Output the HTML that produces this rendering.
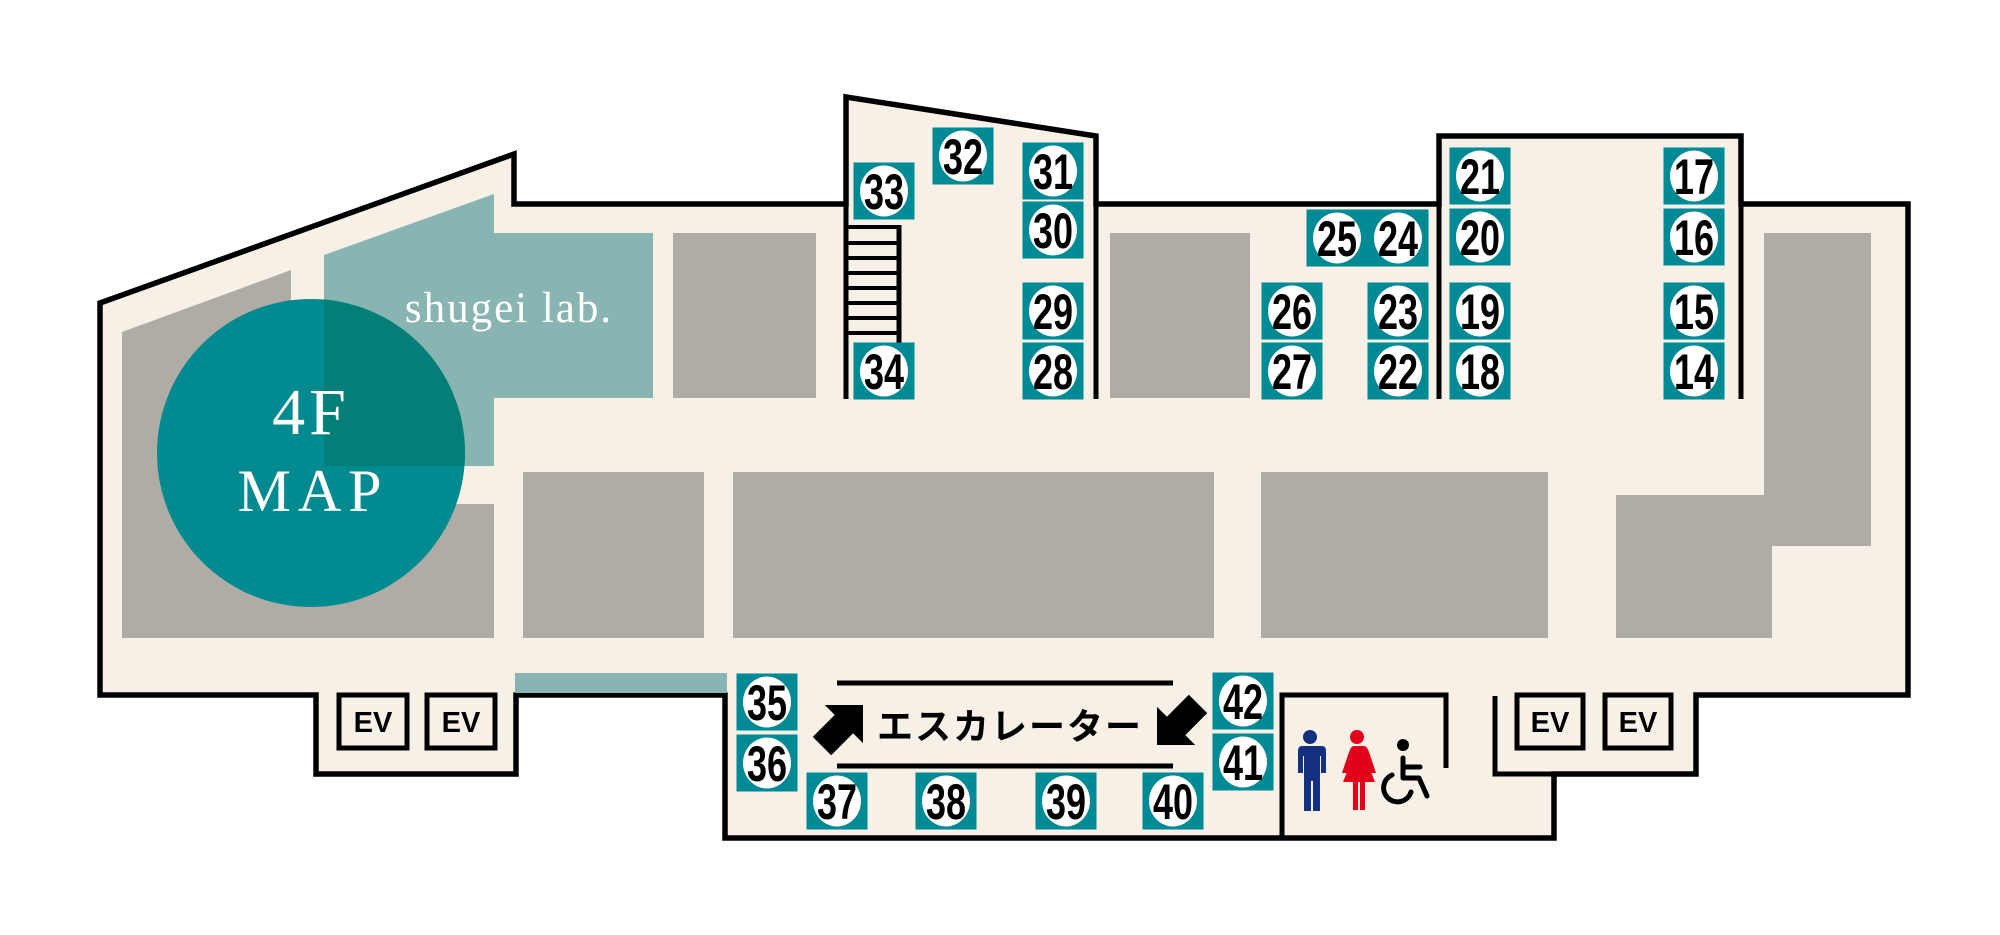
<!DOCTYPE html>
<html><head><meta charset="utf-8"><style>
html,body{margin:0;padding:0;background:#fff;}
svg{display:block;}
.n{font-family:"Liberation Sans Narrow","Liberation Sans",sans-serif;font-weight:bold;font-size:50px;fill:#000;}
.ev{font-family:"Liberation Sans",sans-serif;font-weight:bold;font-size:29px;fill:#000;}
</style></head><body>
<svg width="2000" height="935" viewBox="0 0 2000 935" xmlns="http://www.w3.org/2000/svg">
<defs>
<clipPath id="cc"><circle cx="311" cy="453" r="154"/></clipPath>
<g id="b">
<rect x="-30.5" y="-28.5" width="61" height="57" fill="#008a96"/>
<ellipse cx="0" cy="0" rx="24" ry="25.5" fill="#fff"/>
</g>
</defs>
<polygon points="100,303 514,154 514,204 846,204 846,97 1096,136 1096,204 1439,204 1439,136 1741,136 1741,204 1908,204 1908,695 1696,695 1696,774 1554,774 1554,838 725,838 725,695 516,695 516,774 316,774 316,695 100,695" fill="#f6f0e7" stroke="#000" stroke-width="5.5" stroke-linejoin="miter"/>
<g fill="#afaba5">
<polygon points="122,332 291,270 291,504 494,504 494,638 122,638"/>
<rect x="673" y="233" width="143" height="165"/>
<rect x="1110" y="233" width="140" height="165"/>
<rect x="523" y="472" width="181" height="166"/>
<rect x="733" y="472" width="481" height="166"/>
<rect x="1261" y="472" width="287" height="166"/>
<rect x="1616" y="495" width="156" height="143"/>
<rect x="1764" y="233" width="107" height="313"/>
</g>
<polygon points="324,255 494,194 494,233 653,233 653,398 494,398 494,466 324,466" fill="#88b5b2"/>
<rect x="515" y="673" width="212" height="20" fill="#88b5b2"/>
<circle cx="311" cy="453" r="154" fill="#018a90"/>
<polygon clip-path="url(#cc)" points="324,255 494,194 494,233 653,233 653,398 494,398 494,466 324,466" fill="#037f77"/>
<text x="509" y="322" text-anchor="middle" font-family="'Liberation Serif',serif" font-size="43" fill="#fff" letter-spacing="2">shugei lab.</text>
<text x="311" y="434" text-anchor="middle" font-family="'Liberation Serif',serif" font-size="66" fill="#fff" letter-spacing="4">4F</text>
<text x="313" y="511" text-anchor="middle" font-family="'Liberation Serif',serif" font-size="60" fill="#fff" letter-spacing="7">MAP</text>
<g stroke="#000" stroke-width="5" fill="none">
<line x1="846" y1="204" x2="846" y2="399"/>
<line x1="1096" y1="204" x2="1096" y2="399"/>
<line x1="1439" y1="204" x2="1439" y2="399"/>
<line x1="1741" y1="204" x2="1741" y2="399"/>
<polyline points="1282,838 1282,695 1446,695 1446,768"/>
<polyline points="1495,696 1495,774 1554,774"/>
<line x1="899" y1="225" x2="899" y2="345"/>
<line x1="837" y1="683" x2="1173" y2="683"/>
<line x1="837" y1="766" x2="1173" y2="766"/>
</g>
<g stroke="#000" stroke-width="4">
<line x1="846" y1="227" x2="899" y2="227"/><line x1="846" y1="243" x2="899" y2="243"/>
<line x1="846" y1="258" x2="899" y2="258"/><line x1="846" y1="273" x2="899" y2="273"/>
<line x1="846" y1="288" x2="899" y2="288"/><line x1="846" y1="303" x2="899" y2="303"/>
<line x1="846" y1="318" x2="899" y2="318"/><line x1="846" y1="333" x2="899" y2="333"/>
</g>
<g fill="none" stroke="#000" stroke-width="5">
<rect x="339" y="695" width="68" height="53"/><rect x="427" y="695" width="68" height="53"/>
<rect x="1517" y="695" width="66" height="53"/><rect x="1605" y="695" width="66" height="53"/>
</g>
<text class="ev" x="373" y="732" text-anchor="middle">EV</text>
<text class="ev" x="461" y="732" text-anchor="middle">EV</text>
<text class="ev" x="1550" y="732" text-anchor="middle">EV</text>
<text class="ev" x="1638" y="732" text-anchor="middle">EV</text>
<text x="1010" y="739" text-anchor="middle" font-family="'Liberation Sans','Noto Sans CJK JP',sans-serif" font-weight="bold" font-size="36" fill="#000" letter-spacing="2">エスカレーター</text>
<polygon transform="translate(863,705) rotate(-45)" points="0,0 -27,-27 -27,-13 -58,-13 -58,13 -27,13 -27,27" fill="#000"/>
<polygon transform="translate(1157,745) rotate(135)" points="0,0 -27,-27 -27,-13 -58,-13 -58,13 -27,13 -27,27" fill="#000"/>
<g fill="#15307f">
<circle cx="1310" cy="737" r="7"/>
<path d="M1298,746 h24 q4,0 4,5 v22 h-5 v-17 h-1 v55 h-7 v-30 h-2 v30 h-7 v-55 h-1 v17 h-5 v-22 q0,-5 4,-5z"/>
</g>
<g fill="#e3001b">
<circle cx="1357" cy="737" r="7"/>
<path d="M1350,746 h14 q3,0 5,6 l7,21 h-5 l-6,-16 l10,25 h-10 v28 h-5 v-28 h-2 v28 h-5 v-28 h-10 l10,-25 l-6,16 h-5 l7,-21 q2,-6 5,-6z"/>
</g>
<g fill="none" stroke="#000" stroke-width="5" stroke-linecap="round" stroke-linejoin="round">
<circle cx="1403" cy="745" r="6" fill="#000" stroke="none"/>
<path d="M1403,758 v20 h16 l8,18"/>
<path d="M1404,767 h16"/>
<path d="M1392,775 a14,14 0 1 0 19,17"/>
</g>
<g>
<use href="#b" x="884" y="191"/><text class="n" transform="translate(884,209) scale(0.72,1)" text-anchor="middle">33</text>
<use href="#b" x="963" y="156"/><text class="n" transform="translate(963,174) scale(0.72,1)" text-anchor="middle">32</text>
<use href="#b" x="1053" y="171"/><text class="n" transform="translate(1053,189) scale(0.72,1)" text-anchor="middle">31</text>
<use href="#b" x="1053" y="230"/><text class="n" transform="translate(1053,248) scale(0.72,1)" text-anchor="middle">30</text>
<use href="#b" x="1053" y="311"/><text class="n" transform="translate(1053,329) scale(0.72,1)" text-anchor="middle">29</text>
<use href="#b" x="1053" y="371"/><text class="n" transform="translate(1053,389) scale(0.72,1)" text-anchor="middle">28</text>
<use href="#b" x="884" y="371"/><text class="n" transform="translate(884,389) scale(0.72,1)" text-anchor="middle">34</text>
<use href="#b" x="1337" y="238"/><text class="n" transform="translate(1337,256) scale(0.72,1)" text-anchor="middle">25</text>
<use href="#b" x="1398" y="238"/><text class="n" transform="translate(1398,256) scale(0.72,1)" text-anchor="middle">24</text>
<use href="#b" x="1292" y="311"/><text class="n" transform="translate(1292,329) scale(0.72,1)" text-anchor="middle">26</text>
<use href="#b" x="1292" y="371"/><text class="n" transform="translate(1292,389) scale(0.72,1)" text-anchor="middle">27</text>
<use href="#b" x="1398" y="311"/><text class="n" transform="translate(1398,329) scale(0.72,1)" text-anchor="middle">23</text>
<use href="#b" x="1398" y="371"/><text class="n" transform="translate(1398,389) scale(0.72,1)" text-anchor="middle">22</text>
<use href="#b" x="1480" y="176"/><text class="n" transform="translate(1480,194) scale(0.72,1)" text-anchor="middle">21</text>
<use href="#b" x="1480" y="237"/><text class="n" transform="translate(1480,255) scale(0.72,1)" text-anchor="middle">20</text>
<use href="#b" x="1480" y="311"/><text class="n" transform="translate(1480,329) scale(0.72,1)" text-anchor="middle">19</text>
<use href="#b" x="1480" y="371"/><text class="n" transform="translate(1480,389) scale(0.72,1)" text-anchor="middle">18</text>
<use href="#b" x="1694" y="176"/><text class="n" transform="translate(1694,194) scale(0.72,1)" text-anchor="middle">17</text>
<use href="#b" x="1694" y="237"/><text class="n" transform="translate(1694,255) scale(0.72,1)" text-anchor="middle">16</text>
<use href="#b" x="1694" y="311"/><text class="n" transform="translate(1694,329) scale(0.72,1)" text-anchor="middle">15</text>
<use href="#b" x="1694" y="371"/><text class="n" transform="translate(1694,389) scale(0.72,1)" text-anchor="middle">14</text>
<use href="#b" x="767" y="702"/><text class="n" transform="translate(767,720) scale(0.72,1)" text-anchor="middle">35</text>
<use href="#b" x="767" y="763"/><text class="n" transform="translate(767,781) scale(0.72,1)" text-anchor="middle">36</text>
<use href="#b" x="837" y="801"/><text class="n" transform="translate(837,819) scale(0.72,1)" text-anchor="middle">37</text>
<use href="#b" x="946" y="801"/><text class="n" transform="translate(946,819) scale(0.72,1)" text-anchor="middle">38</text>
<use href="#b" x="1066" y="801"/><text class="n" transform="translate(1066,819) scale(0.72,1)" text-anchor="middle">39</text>
<use href="#b" x="1173" y="801"/><text class="n" transform="translate(1173,819) scale(0.72,1)" text-anchor="middle">40</text>
<use href="#b" x="1243" y="701"/><text class="n" transform="translate(1243,719) scale(0.72,1)" text-anchor="middle">42</text>
<use href="#b" x="1243" y="762"/><text class="n" transform="translate(1243,780) scale(0.72,1)" text-anchor="middle">41</text>
</g>
</svg>
</body></html>
